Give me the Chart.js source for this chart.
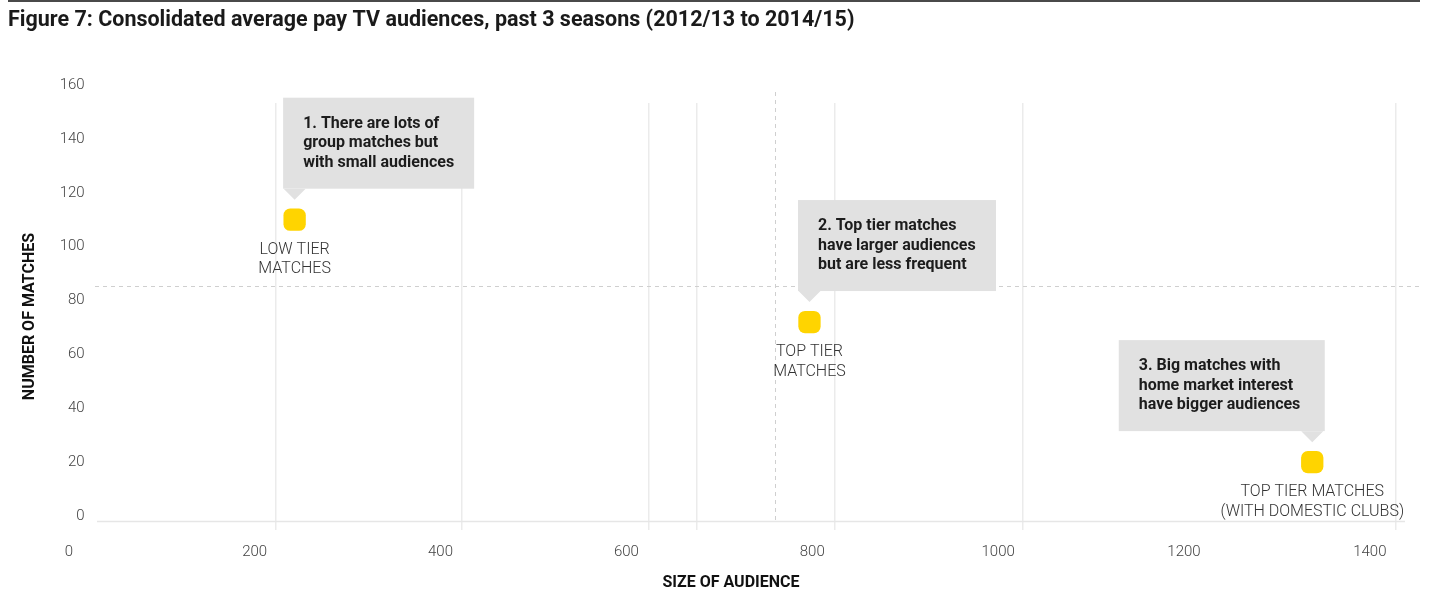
<!DOCTYPE html>
<html>
<head>
<meta charset="utf-8">
<script src="https://cdn.jsdelivr.net/npm/chart.js@4.4.0/dist/chart.umd.min.js"></script>
<style>
  html, body { margin: 0; padding: 0; background: #ffffff; }
  #wrap { width: 1455px; height: 595px; position: relative; }
</style>
</head>
<body>
<div id="wrap"><canvas id="chart" width="1455" height="595"></canvas></div>
<script>
// ---- data ----
const titleText = "Figure 7: Consolidated average pay TV audiences, past 3 seasons (2012/13 to 2014/15)";
const xAxisTitle = "SIZE OF AUDIENCE";
const yAxisTitle = "NUMBER OF MATCHES";
const audience = [243, 797, 1338];
const matches = [110, 72, 20];
const categoryLabels = [
  ["LOW TIER", "MATCHES"],
  ["TOP TIER", "MATCHES"],
  ["TOP TIER MATCHES", "(WITH DOMESTIC CLUBS)"]
];
const calloutText = [
  ["1. There are lots of", "group matches but", "with small audiences"],
  ["2. Top tier matches", "have larger audiences", "but are less frequent"],
  ["3. Big matches with", "home market interest", "have bigger audiences"]
];
const xTickValues = [0, 200, 400, 600, 800, 1000, 1200, 1400];
const yTickValues = [0, 20, 40, 60, 80, 100, 120, 140, 160];
const gridValues = [223, 423, 624, 676, 824.5, 1026, 1428];
const refAudience = 760;
const refMatches = 85.4;

// ---- styling / layout ----
const FONT = "Roboto, 'Liberation Sans', sans-serif";
Chart.defaults.font.family = FONT;
const X_RANGE = { min: -4.09, max: 1429.2 };
const Y_RANGE = { min: -5.197, max: 153.32 };
const calloutLayout = [
  { width: 191, anchor: 'left' },
  { width: 198, anchor: 'left' },
  { width: 206, anchor: 'right' }
];

const decorPlugin = {
  id: 'decor',
  beforeDatasetsDraw(chart) {
    const { ctx, chartArea, scales: { x, y } } = chart;
    ctx.save();
    const by = Math.round(y.getPixelForValue(0) + 5) + 0.5;
    ctx.strokeStyle = '#e6e6e6';
    ctx.lineWidth = 1.5;
    ctx.beginPath();
    ctx.moveTo(chartArea.left + 32, by);
    ctx.lineTo(chartArea.right + 8, by);
    ctx.stroke();
    ctx.strokeStyle = '#cfcfcf';
    ctx.lineWidth = 1;
    ctx.setLineDash([4, 4]);
    const vx = Math.round(x.getPixelForValue(refAudience)) + 0.5;
    ctx.beginPath();
    ctx.moveTo(vx, chartArea.top - 11);
    ctx.lineTo(vx, by + 2);
    ctx.stroke();
    const hy = Math.round(y.getPixelForValue(refMatches)) + 0.5;
    ctx.beginPath();
    ctx.moveTo(chartArea.left + 30, hy);
    ctx.lineTo(chartArea.right + 23, hy);
    ctx.stroke();
    ctx.restore();
  },
  afterDatasetsDraw(chart) {
    const { ctx, scales: { x, y } } = chart;
    ctx.save();
    audience.forEach((a, i) => {
      const px = x.getPixelForValue(a);
      const py = y.getPixelForValue(matches[i]);
      const lay = calloutLayout[i];
      const h = 91;
      const bottom = py - 31;
      const top = bottom - h;
      const left = lay.anchor === 'left' ? px - 11.5 : px + 12.5 - lay.width;
      ctx.fillStyle = '#e1e1e1';
      ctx.fillRect(left, top, lay.width, h);
      ctx.beginPath();
      ctx.moveTo(px - 11, bottom);
      ctx.lineTo(px + 11, bottom);
      ctx.lineTo(px, py - 20);
      ctx.closePath();
      ctx.fill();
      ctx.fillStyle = '#1c1c1c';
      ctx.font = "bold 16px " + FONT;
      ctx.textAlign = 'left';
      ctx.textBaseline = 'middle';
      calloutText[i].forEach((t, k) => ctx.fillText(t, left + 20, top + 26 + k * 19.5));
      ctx.fillStyle = '#333333';
      ctx.font = "300 16px " + FONT;
      ctx.textAlign = 'center';
      categoryLabels[i].forEach((t, k) => ctx.fillText(t, px, py + 30 + k * 19.5));
    });
    ctx.restore();
  },
  afterDraw(chart) {
    const { ctx } = chart;
    ctx.save();
    ctx.fillStyle = '#4a4a4a';
    ctx.fillRect(8, 0, 1412, 2);
    ctx.restore();
  }
};

new Chart(document.getElementById('chart'), {
  type: 'scatter',
  data: {
    datasets: [{
      data: audience.map((a, i) => ({ x: a, y: matches[i] })),
      pointStyle: 'rectRounded',
      pointRadius: 13,
      pointHoverRadius: 13,
      backgroundColor: '#FFD400',
      borderWidth: 0
    }]
  },
  options: {
    responsive: false,
    animation: false,
    events: [],
    layout: { padding: { left: 8, right: 58, top: 0, bottom: 0 } },
    plugins: {
      legend: { display: false },
      tooltip: { enabled: false },
      title: {
        display: true,
        text: titleText,
        align: 'start',
        color: '#1a1a1a',
        font: { size: 21.5, weight: 'bold' },
        padding: { top: 7.6, bottom: 69.6 }
      }
    },
    scales: {
      x: {
        type: 'linear',
        position: 'bottom',
        min: X_RANGE.min,
        max: X_RANGE.max,
        afterBuildTicks: s => { s.ticks = xTickValues.map(v => ({ value: v })); },
        afterFit: s => { s.height = 65; },
        grid: { display: false, drawTicks: false },
        border: { display: false },
        ticks: { autoSkip: false, maxRotation: 0, padding: 13, color: '#444', font: { size: 15, weight: 300 }, callback: v => String(v) },
        title: { display: true, text: xAxisTitle, color: '#111', font: { size: 16, weight: 'bold' }, padding: { top: 0, bottom: 2.4 } }
      },
      xg: {
        type: 'linear',
        position: 'bottom',
        min: X_RANGE.min,
        max: X_RANGE.max,
        afterBuildTicks: s => { s.ticks = gridValues.map(v => ({ value: v })); },
        afterFit: s => { s.height = 0; },
        grid: { display: true, color: '#ebebeb', lineWidth: 1.5, drawTicks: false },
        border: { display: false },
        ticks: { display: false }
      },
      y: {
        type: 'linear',
        position: 'left',
        min: Y_RANGE.min,
        max: Y_RANGE.max,
        afterBuildTicks: s => { s.ticks = yTickValues.map(v => ({ value: v })); },
        afterFit: s => { s.width = 57; },
        grid: { display: false, drawTicks: false },
        border: { display: false },
        ticks: { mirror: true, crossAlign: 'far', padding: -5.3, color: '#444', font: { size: 15, weight: 300 }, callback: v => String(v) },
        title: { display: true, text: yAxisTitle, color: '#111', font: { size: 16, weight: 'bold' }, padding: { top: 12.4, bottom: 0 } }
      }
    }
  },
  plugins: [decorPlugin]
});
</script>
</body>
</html>
